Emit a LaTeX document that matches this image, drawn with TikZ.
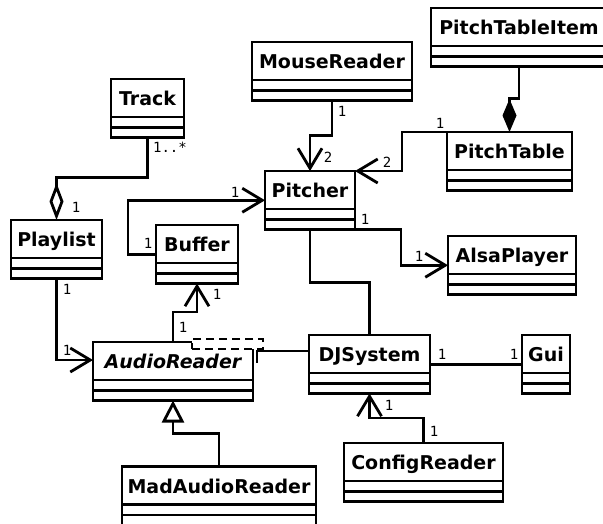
\documentclass[tikz,border=0pt]{standalone}
\usepackage{fontspec}
\setmainfont{DejaVu Sans}
\newfontfamily\multfont{DejaVu Sans Mono}
\usetikzlibrary{arrows.meta}

\begin{document}
\begin{tikzpicture}[x=1pt,y=-1pt,line width=2.8pt,
    cls/.style={draw,anchor=north west,inner xsep=0pt,inner ysep=0pt,outer sep=0pt,
      text height=26.5pt,text depth=32pt,font=\bfseries\fontsize{19}{22}\selectfont,
      path picture={\draw
        ([yshift=-38pt]path picture bounding box.north west) -- ([yshift=-38pt]path picture bounding box.north east)
        ([yshift=-48.5pt]path picture bounding box.north west) -- ([yshift=-48.5pt]path picture bounding box.north east);}},
    tparam/.style={draw,dashed,dash pattern=on 8pt off 5pt,fill=white,minimum width=71pt,minimum height=10pt,inner sep=0pt},
    mult/.style={font=\multfont\fontsize{14}{16}\selectfont,inner sep=0pt},
    nav/.style={-{Straight Barb[length=20pt,width=24pt]}},
    gen/.style={-{Triangle[open,length=22pt,width=22pt]}},
    aggr/.style={-{Diamond[open,length=37pt,width=14pt]}},
    comp/.style={-{Diamond[length=33pt,width=14pt]}}]
    \useasboundingbox (0,0) rectangle (603,523);
    % classes
    \node[cls,minimum width=73pt] (track) at (111,79) {Track};
    \node[cls,minimum width=91pt] (playlist) at (11,220) {Playlist};
    \node[cls,minimum width=82pt] (buffer) at (156,225) {Buffer};
    \node[cls,minimum width=160pt] (mousereader) at (252,42) {MouseReader};
    \node[cls,minimum width=176pt] (pitchtableitem) at (431,8) {PitchTableItem};
    \node[cls,minimum width=125pt] (pitchtable) at (447,132) {PitchTable};
    \node[cls,minimum width=90pt] (pitcher) at (265,171) {Pitcher};
    \node[cls,minimum width=128pt] (alsaplayer) at (448,236) {AlsaPlayer};
    \node[cls,minimum width=160pt] (audioreader) at (93,342) {\itshape AudioReader};
    \node[tparam] (arparam) at (227.5,344) {};
    \node[cls,minimum width=121pt] (djsystem) at (309,335) {DJSystem};
    \node[cls,minimum width=48pt] (gui) at (522,335) {Gui};
    \node[cls,minimum width=159pt] (configreader) at (344,443) {ConfigReader};
    \node[cls,minimum width=194pt] (madaudioreader) at (122,466.5) {MadAudioReader};
    % connectors
    \draw[aggr] (track.south) -- ++(0,40) -| (playlist.north);
    \draw[nav] (buffer.west) -- ++(-28,0) |- (pitcher.west);
    \draw[nav] (mousereader.south) -- ++(0,35) -| (pitcher.north);
    \draw[comp] (pitchtableitem.south) -- ++(0,32) -| (pitchtable.north);
    \draw[nav] (pitchtable.north west) -- ++(-45,0) |- (pitcher.north east);
    \draw[nav] (pitcher.south east) -- ++(46,0) |- (alsaplayer.west);
    \draw (pitcher.south) -- ++(0,53) -| (djsystem.north);
    \draw (djsystem.east) -- (gui.west);
    \draw[nav] (configreader.north) -- ++(0,-25) -| (djsystem.south);
    \draw[nav] (playlist.south) |- ([yshift=-18pt]audioreader.north west);
    \draw[nav] (audioreader.north) -- ++(0,-30) -| (buffer.south);
    \draw[gen] (madaudioreader.north) -- ++(0,-33) -| (audioreader.south);
    \draw ([yshift=-16pt]djsystem.north west) -| ([xshift=4pt,yshift=-21pt]audioreader.north east);
    % multiplicities
    \node[mult] (mtrack) at (170,147) {1..*};
    \node[mult] (mplaylistn) at (76,207) {1};
    \node[mult] (mbufferw) at (148,243) {1};
    \node[mult] (mpitcherw) at (235,192) {1};
    \node[mult] (mmouse) at (342,111) {1};
    \node[mult] (mpitchern) at (328,157) {2};
    \node[mult] (mtable) at (440,123) {1};
    \node[mult] (mpitchere) at (387,162) {2};
    \node[mult] (mpitchers) at (365,219) {1};
    \node[mult] (malsa) at (419,256) {1};
    \node[mult] (mplaylists) at (67,289) {1};
    \node[mult] (maudiow) at (67,350) {1};
    \node[mult] (maudion) at (183,327) {1};
    \node[mult] (mbuffers) at (217,294) {1};
    \node[mult] (mdje) at (442,354) {1};
    \node[mult] (mgui) at (514,354) {1};
    \node[mult] (mdjs) at (389,405) {1};
    \node[mult] (mconfig) at (434,431) {1};
\end{tikzpicture}
\end{document}
